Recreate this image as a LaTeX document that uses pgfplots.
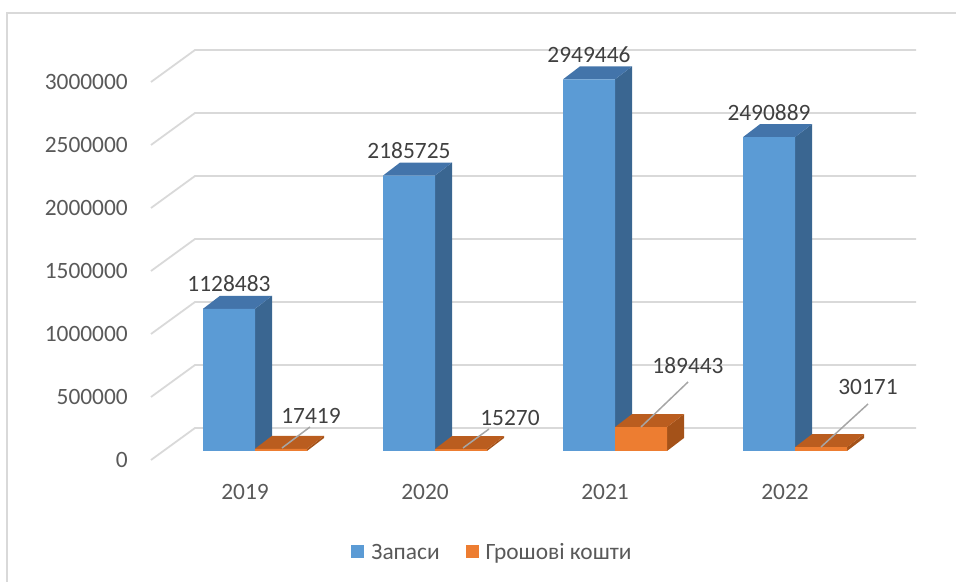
\documentclass[border=0pt]{standalone}
\usepackage{fontspec}
\setmainfont{Carlito}
\usepackage{pgfplots}
\pgfplotsset{compat=1.18}
\definecolor{bfront}{HTML}{5B9BD5}
\definecolor{btop}{HTML}{4374AA}
\definecolor{bside}{HTML}{3A6691}
\definecolor{ofront}{HTML}{ED7D31}
\definecolor{otop}{HTML}{BA5D1F}
\definecolor{oside}{HTML}{A45219}
\definecolor{gridc}{HTML}{D9D9D9}
\definecolor{tickc}{HTML}{595959}
\definecolor{labc}{HTML}{404040}
\definecolor{leadc}{HTML}{A6A6A6}
\begin{document}
\begin{tikzpicture}[font=\fontsize{23.4}{28}\selectfont]
\begin{axis}[
 scale only axis, width=956pt, height=582pt,
 xmin=-1.41667, xmax=3.89444, ymin=-1039683, ymax=3579365,
 axis line style={draw=none}, tick style={draw=none}, major tick length=0pt,
 clip=false, scaled y ticks=false, scaled x ticks=false,
 ytick={-71429,428571,928571,1428571,1928571,2428571,2928571},
 yticklabels={0,500000,1000000,1500000,2000000,2500000,3000000},
 yticklabel style={anchor=east, inner sep=0pt, xshift=128pt, text=tickc},
 xtick={-0.05556,0.94444,1.94444,2.94444},
 xticklabels={2019,2020,2021,2022},
 xticklabel style={anchor=center, inner sep=0pt, yshift=90pt, text=tickc},
 legend columns=2,
 legend style={at={(axis cs:1.3139,-801587)}, anchor=center, draw=none, fill=none, inner sep=0pt,
   nodes={inner sep=0pt, text=tickc, text height=15pt, text depth=0pt},
   /tikz/every odd column/.append style={column sep=7pt},
   /tikz/every even column/.append style={column sep=26pt}},
 legend image code/.code={\fill[#1] (0pt,-6.5pt) rectangle (13pt,6.5pt);},
]
% gridlines (left wall + back wall)
\addplot[gridc, line width=1.8pt, forget plot] coordinates {(-0.57778,-71429) (-0.33333,182540) (3.67222,182540)};
\addplot[gridc, line width=1.8pt, forget plot] coordinates {(-0.57778,428571) (-0.33333,682540) (3.67222,682540)};
\addplot[gridc, line width=1.8pt, forget plot] coordinates {(-0.57778,928571) (-0.33333,1182540) (3.67222,1182540)};
\addplot[gridc, line width=1.8pt, forget plot] coordinates {(-0.57778,1428571) (-0.33333,1682540) (3.67222,1682540)};
\addplot[gridc, line width=1.8pt, forget plot] coordinates {(-0.57778,1928571) (-0.33333,2182540) (3.67222,2182540)};
\addplot[gridc, line width=1.8pt, forget plot] coordinates {(-0.57778,2428571) (-0.33333,2682540) (3.67222,2682540)};
\addplot[gridc, line width=1.8pt, forget plot] coordinates {(-0.57778,2928571) (-0.33333,3182540) (3.67222,3182540)};
% blue side faces
\addplot[fill=bside, draw=none, forget plot] coordinates {(0,0) (0,1128483) (0.09444,1231658) (0.09444,103175)} -- cycle;
\addplot[fill=bside, draw=none, forget plot] coordinates {(1,0) (1,2185725) (1.09444,2288900) (1.09444,103175)} -- cycle;
\addplot[fill=bside, draw=none, forget plot] coordinates {(2,0) (2,2949446) (2.09444,3052621) (2.09444,103175)} -- cycle;
\addplot[fill=bside, draw=none, forget plot] coordinates {(3,0) (3,2490889) (3.09444,2594064) (3.09444,103175)} -- cycle;
% blue top faces
\addplot[fill=btop, draw=none, forget plot] coordinates {(-0.28889,1128483) (0,1128483) (0.09444,1231658) (-0.19444,1231658)} -- cycle;
\addplot[fill=btop, draw=none, forget plot] coordinates {(0.71111,2185725) (1,2185725) (1.09444,2288900) (0.80556,2288900)} -- cycle;
\addplot[fill=btop, draw=none, forget plot] coordinates {(1.71111,2949446) (2,2949446) (2.09444,3052621) (1.80556,3052621)} -- cycle;
\addplot[fill=btop, draw=none, forget plot] coordinates {(2.71111,2490889) (3,2490889) (3.09444,2594064) (2.80556,2594064)} -- cycle;
% blue front faces
\addplot[ybar, bar width=52pt, bar shift=-26pt, fill=bfront, draw=none,
  point meta=explicit symbolic, nodes near coords,
  nodes near coords style={anchor=center, inner sep=0pt, xshift=-26pt, yshift=25pt, text=labc}]
  coordinates {(0,1128483)[1128483] (1,2185725)[2185725] (2,2949446)[2949446] (3,2490889)[2490889]};
\addlegendentry{Запаси}
% orange side faces
\addplot[fill=oside, draw=none, forget plot] coordinates {(0.28889,0) (0.28889,17419) (0.38333,120594) (0.38333,103175)} -- cycle;
\addplot[fill=oside, draw=none, forget plot] coordinates {(1.28889,0) (1.28889,15270) (1.38333,118445) (1.38333,103175)} -- cycle;
\addplot[fill=oside, draw=none, forget plot] coordinates {(2.28889,0) (2.28889,189443) (2.38333,292618) (2.38333,103175)} -- cycle;
\addplot[fill=oside, draw=none, forget plot] coordinates {(3.28889,0) (3.28889,30171) (3.38333,133346) (3.38333,103175)} -- cycle;
% orange top faces
\addplot[fill=otop, draw=none, forget plot] coordinates {(0,17419) (0.28889,17419) (0.38333,120594) (0.09444,120594)} -- cycle;
\addplot[fill=otop, draw=none, forget plot] coordinates {(1,15270) (1.28889,15270) (1.38333,118445) (1.09444,118445)} -- cycle;
\addplot[fill=otop, draw=none, forget plot] coordinates {(2,189443) (2.28889,189443) (2.38333,292618) (2.09444,292618)} -- cycle;
\addplot[fill=otop, draw=none, forget plot] coordinates {(3,30171) (3.28889,30171) (3.38333,133346) (3.09444,133346)} -- cycle;
% orange front faces
\addplot[ybar, bar width=52pt, bar shift=26pt, fill=ofront, draw=none,
  point meta=explicit symbolic, nodes near coords,
  visualization depends on={value \thisrow{dx}\as\ldx},
  visualization depends on={value \thisrow{dy}\as\ldy},
  nodes near coords style={anchor=center, inner sep=0pt, xshift=\ldx pt, yshift=\ldy pt, text=labc}]
  table[x=x, y=y, meta=lab, row sep=\\] {
  x y lab dx dy \\
  0 17419 17419 56 33 \\
  1 15270 15270 75 31 \\
  2 189443 189443 73 62 \\
  3 30171 30171 73 60 \\
  };
\addlegendentry{Грошові кошти}
% leader lines
\addplot[leadc, line width=1.5pt, forget plot] coordinates {(0.15,23810) (0.30556,190476)};
\addplot[leadc, line width=1.5pt, forget plot] coordinates {(1.15556,23810) (1.3,174603)};
\addplot[leadc, line width=1.5pt, forget plot] coordinates {(2.14444,190476) (2.40556,547619)};
\addplot[leadc, line width=1.5pt, forget plot] coordinates {(3.14444,31746) (3.40556,373016)};
\end{axis}
\draw[gridc, line width=1.5pt] ([xshift=7pt]current axis.south west) |- ([yshift=-13pt]current axis.north east);
\pgfresetboundingbox
\path (current axis.south west) rectangle (current axis.north east);
\end{tikzpicture}
\end{document}
